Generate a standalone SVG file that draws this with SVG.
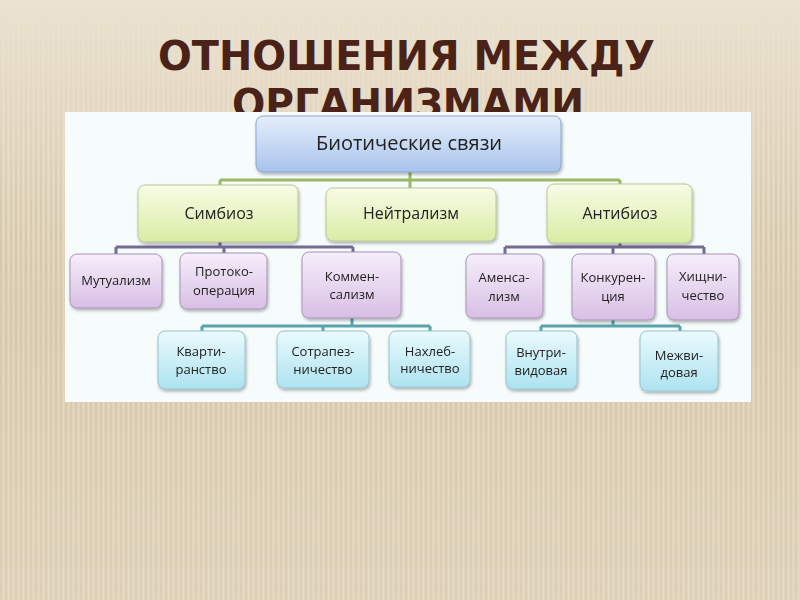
<svg xmlns="http://www.w3.org/2000/svg" width="800" height="600" viewBox="0 0 800 600">
<defs>
<linearGradient id="bg" x1="0" y1="0" x2="0" y2="1">
<stop offset="0" stop-color="#ebe2d0"/>
<stop offset="0.5" stop-color="#ddd0b6"/>
<stop offset="1" stop-color="#e2d6bf"/>
</linearGradient>
<pattern id="stripes" width="5" height="600" patternUnits="userSpaceOnUse">
<rect x="0" y="0" width="2" height="600" fill="#bfa983" opacity="0.22"/>
<rect x="3" y="0" width="1" height="600" fill="#f4ecdc" opacity="0.3"/>
</pattern>
<linearGradient id="stripeMask" x1="0" y1="0" x2="0" y2="1">
<stop offset="0" stop-color="#fff" stop-opacity="0"/>
<stop offset="0.12" stop-color="#fff" stop-opacity="0.2"/>
<stop offset="0.35" stop-color="#fff" stop-opacity="1"/>
<stop offset="1" stop-color="#fff" stop-opacity="0.7"/>
</linearGradient>
<mask id="m"><rect width="800" height="600" fill="url(#stripeMask)"/></mask>
<linearGradient id="gBlue" x1="0" y1="0" x2="0" y2="1">
<stop offset="0" stop-color="#e4eefb"/><stop offset="1" stop-color="#a9c3ec"/>
</linearGradient>
<linearGradient id="gGreen" x1="0" y1="0" x2="0" y2="1">
<stop offset="0" stop-color="#f7fce6"/><stop offset="1" stop-color="#d9eca4"/>
</linearGradient>
<linearGradient id="gPurple" x1="0" y1="0" x2="0" y2="1">
<stop offset="0" stop-color="#f6eefa"/><stop offset="1" stop-color="#d8bfe5"/>
</linearGradient>
<linearGradient id="gCyan" x1="0" y1="0" x2="0" y2="1">
<stop offset="0" stop-color="#eafafd"/><stop offset="1" stop-color="#ade3f0"/>
</linearGradient>
<filter id="sh" x="-10%" y="-10%" width="130%" height="140%">
<feDropShadow dx="1" dy="2" stdDeviation="1.5" flood-color="#000" flood-opacity="0.3"/>
</filter>
<style>
.title{font-family:"DejaVu Sans Condensed","DejaVu Sans",sans-serif;font-weight:bold;font-size:41px;fill:#4a2218}
.t{font-family:"Open Sans","Liberation Sans",sans-serif;fill:#222;text-anchor:middle}
.s{font-size:13px}
.m{font-size:16px}
.blue{fill:url(#gBlue);stroke:#8aa6d2;stroke-width:1}
.green{fill:url(#gGreen);stroke:#b8c890;stroke-width:1}
.purple{fill:url(#gPurple);stroke:#a794b4;stroke-width:1}
.cyan{fill:url(#gCyan);stroke:#94c4cc;stroke-width:1}
.box{filter:url(#sh)}
.cg{stroke:#9bb864;stroke-width:3;fill:none}
.cp{stroke:#776a92;stroke-width:3;fill:none}
.cc{stroke:#5aa3ab;stroke-width:3;fill:none}
</style>
</defs>
<rect width="800" height="600" fill="url(#bg)"/>
<rect width="800" height="600" fill="url(#stripes)" mask="url(#m)"/>
<text class="title" x="158" y="70" textLength="497" lengthAdjust="spacingAndGlyphs">ОТНОШЕНИЯ МЕЖДУ</text>
<text class="title" x="232" y="118" textLength="352" lengthAdjust="spacingAndGlyphs">ОРГАНИЗМАМИ</text>
<rect x="65" y="112" width="686" height="290" fill="#f6fbfc"/>
<g id="connectors">
<path class="cg" d="M410 172V180M220 180H620M220 180V185M410 180V188M620 180V184"/>
<path class="cp" d="M220 242V247M116 247H353M116 247V254M224 247V253M353 247V252"/>
<path class="cp" d="M620 243V247M505 247H704M505 247V254M613 247V254M704 247V254"/>
<path class="cc" d="M352 318V326M202 326H430M202 326V331M323 326V331M430 326V331"/>
<path class="cc" d="M613 320V326M541 326H680M541 326V331M680 326V331"/>
</g>
<g id="n-root" class="box"><rect class="blue" x="256" y="116" width="305" height="56" rx="7"/><text class="t" x="409" y="150" font-size="20">Биотические связи</text></g>
<g id="n-symbiosis" class="box"><rect class="green" x="138" y="185" width="160" height="57" rx="7"/><text class="t m" x="219" y="219">Симбиоз</text></g>
<g id="n-neutralism" class="box"><rect class="green" x="326" y="188" width="170" height="53" rx="7"/><text class="t m" x="411" y="219">Нейтрализм</text></g>
<g id="n-antibiosis" class="box"><rect class="green" x="547" y="184" width="145" height="59" rx="7"/><text class="t m" x="620" y="219">Антибиоз</text></g>
<g id="n-mutualism" class="box"><rect class="purple" x="70" y="254" width="92" height="54" rx="7"/><text class="t s" x="116" y="285">Мутуализм</text></g>
<g id="n-protocooperation" class="box"><rect class="purple" x="180" y="253" width="87" height="56" rx="7"/><text class="t s" x="224" y="276">Протоко-</text><text class="t s" x="224" y="295">операция</text></g>
<g id="n-commensalism" class="box"><rect class="purple" x="302" y="252" width="99" height="66" rx="7"/><text class="t s" x="352" y="281">Коммен-</text><text class="t s" x="352" y="299">сализм</text></g>
<g id="n-amensalism" class="box"><rect class="purple" x="466" y="254" width="77" height="64" rx="7"/><text class="t s" x="504" y="282">Аменса-</text><text class="t s" x="504" y="301">лизм</text></g>
<g id="n-competition" class="box"><rect class="purple" x="572" y="254" width="83" height="66" rx="7"/><text class="t s" x="613" y="282">Конкурен-</text><text class="t s" x="613" y="301">ция</text></g>
<g id="n-predation" class="box"><rect class="purple" x="667" y="254" width="72" height="66" rx="7"/><text class="t s" x="703" y="281">Хищни-</text><text class="t s" x="703" y="300">чество</text></g>
<g id="n-quartering" class="box"><rect class="cyan" x="158" y="331" width="87" height="58" rx="7"/><text class="t s" x="201" y="356">Кварти-</text><text class="t s" x="201" y="374">ранство</text></g>
<g id="n-syssitism" class="box"><rect class="cyan" x="277" y="331" width="92" height="57" rx="7"/><text class="t s" x="323" y="356">Сотрапез-</text><text class="t s" x="323" y="374">ничество</text></g>
<g id="n-freeloading" class="box"><rect class="cyan" x="389" y="331" width="81" height="56" rx="7"/><text class="t s" x="430" y="356">Нахлеб-</text><text class="t s" x="430" y="373">ничество</text></g>
<g id="n-intraspecific" class="box"><rect class="cyan" x="506" y="331" width="71" height="58" rx="7"/><text class="t s" x="541" y="357">Внутри-</text><text class="t s" x="541" y="375">видовая</text></g>
<g id="n-interspecific" class="box"><rect class="cyan" x="640" y="331" width="78" height="60" rx="7"/><text class="t s" x="679" y="360">Межви-</text><text class="t s" x="679" y="377">довая</text></g>
</svg>
